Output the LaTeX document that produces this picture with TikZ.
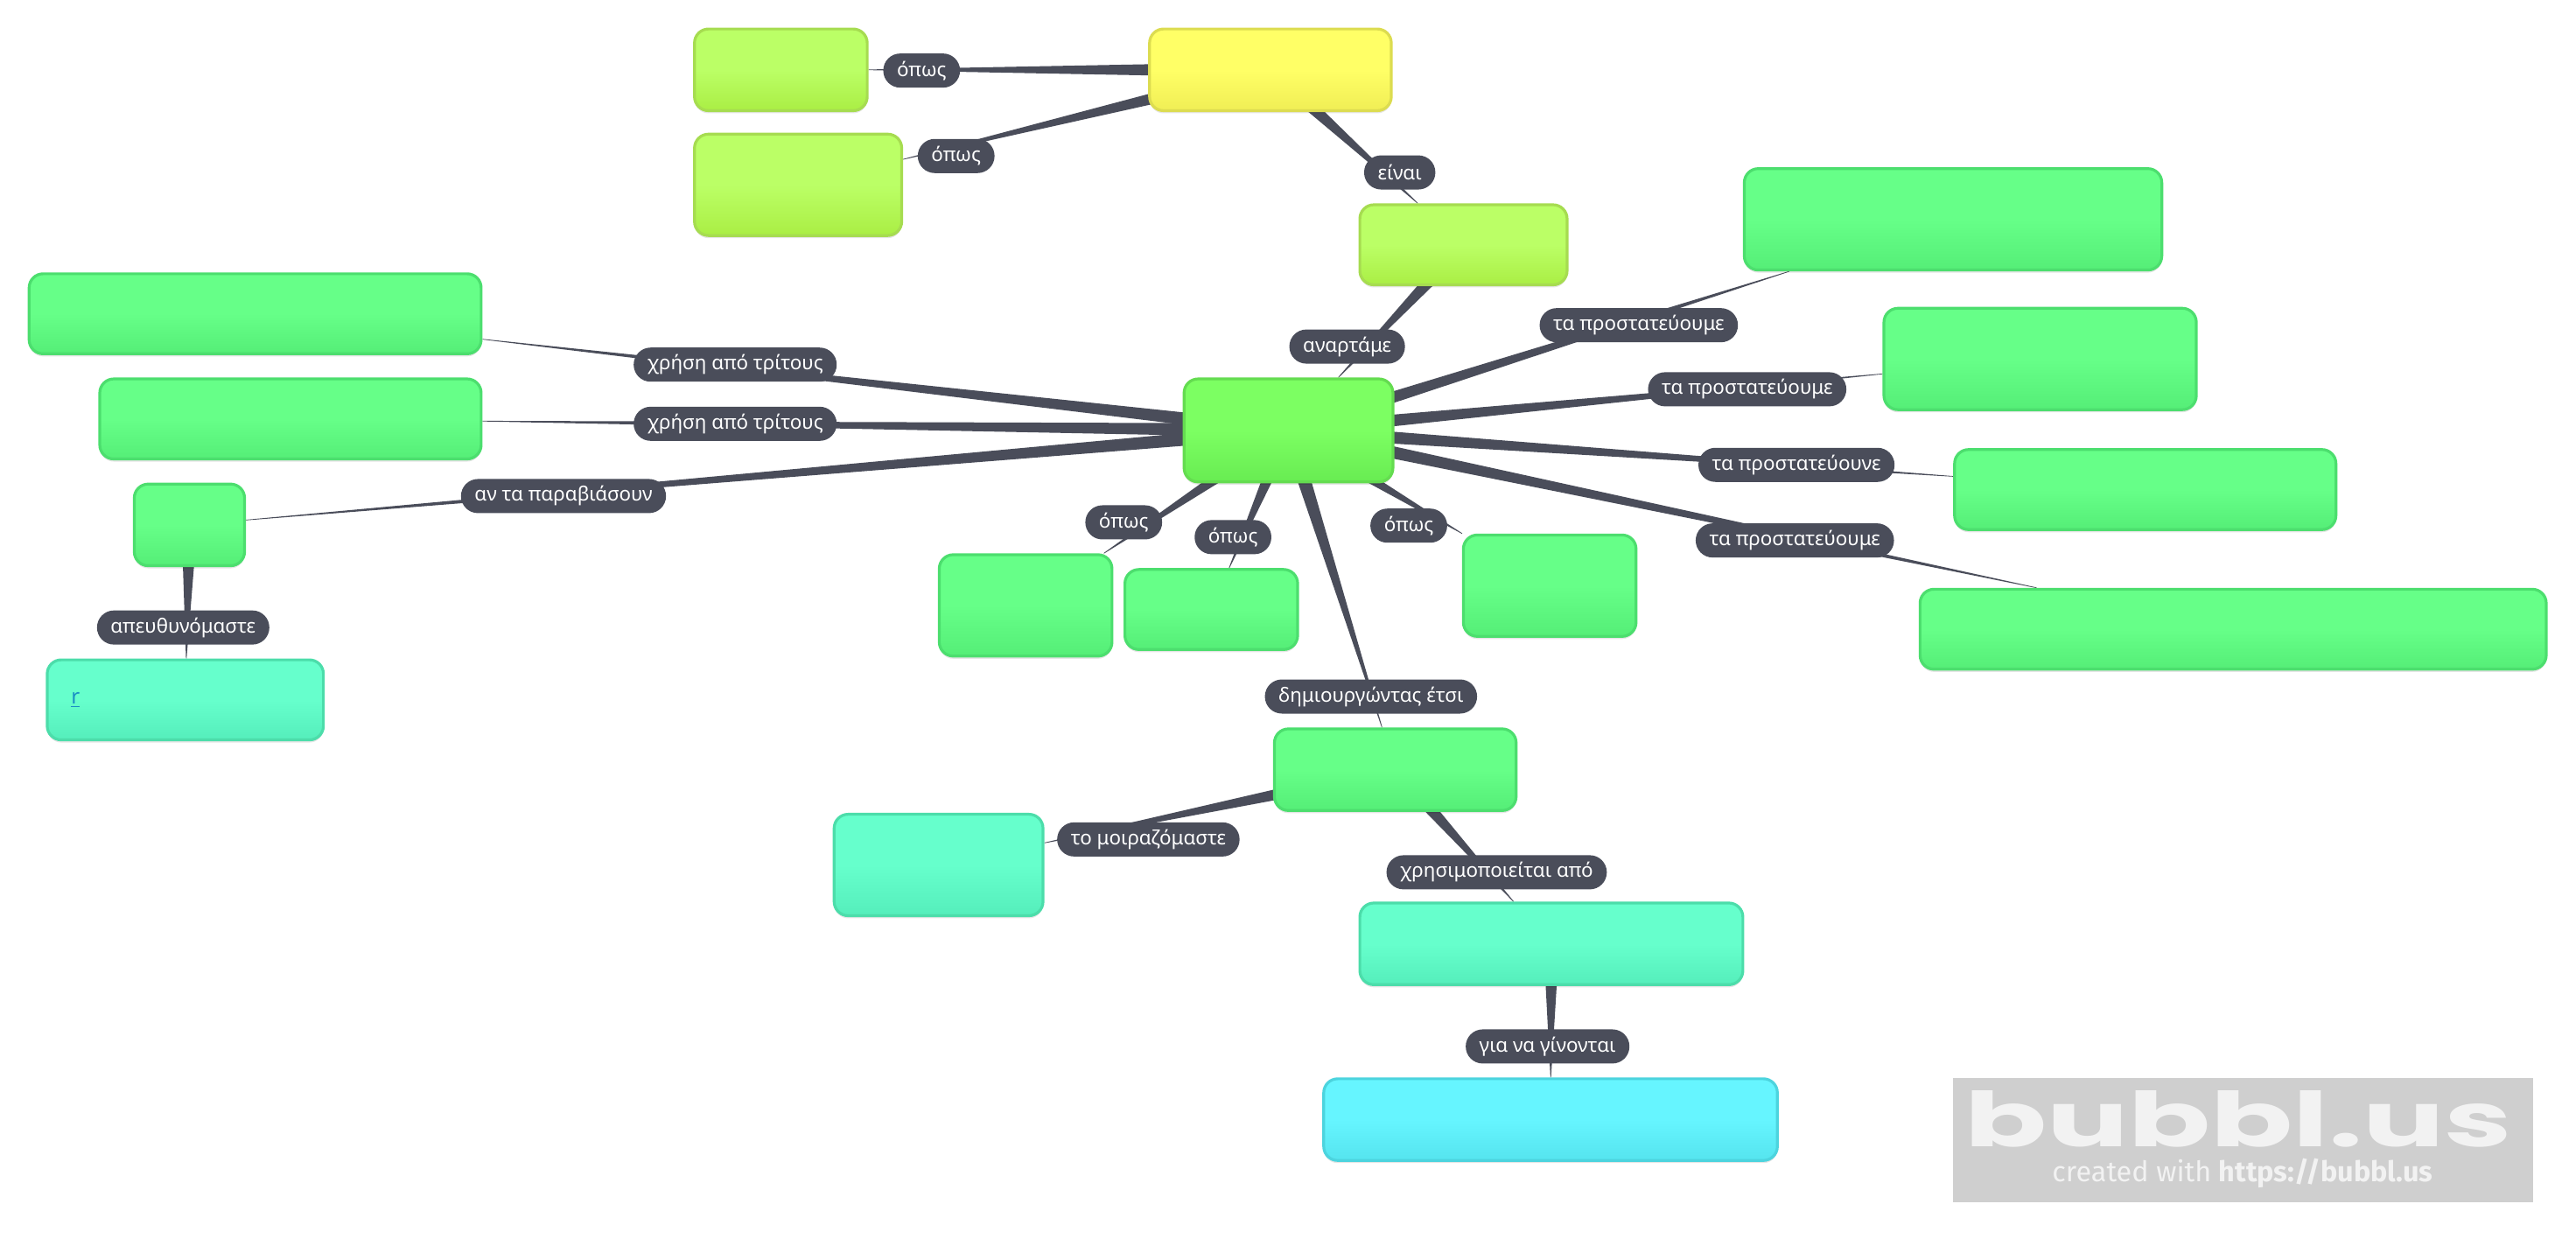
\documentclass[tikz,border=0pt]{standalone}
\usepackage{fontspec}
\setmainfont{Noto Sans}
\newfontfamily\logofont{Poppins}
\newfontfamily\wmfont{Fira Sans}
\usetikzlibrary{calc,backgrounds,shadows}
\definecolor{ink}{HTML}{4A4D5A}
\definecolor{wm}{HTML}{CFCFCF}
\definecolor{wmtext}{HTML}{F2F2F2}
\definecolor{linkblue}{HTML}{1A8FC4}
\definecolor{cenB}{HTML}{64DC50}
\definecolor{grnB}{HTML}{4CDE6E}
\definecolor{tealB}{HTML}{4CDDAA}
\definecolor{limeB}{HTML}{A6DC50}
\definecolor{yelB}{HTML}{DCDC50}
\definecolor{cyanB}{HTML}{4CD4DE}
\newcommand{\mkshade}[3]{%
  \definecolor{#1T}{HTML}{#2}\definecolor{#1L}{HTML}{#3}%
  \pgfdeclareverticalshading{#1S}{100bp}{color(0bp)=(#1L);color(25bp)=(#1L);color(50bp)=(#1T);color(100bp)=(#1T)}}
\mkshade{cen}{7CFF62}{68EC52}
\mkshade{grn}{66FF88}{55EE77}
\mkshade{teal}{66FFCC}{55EEBB}
\mkshade{lime}{BBFF66}{AAEE44}
\mkshade{yel}{FFFF66}{F0EE55}
\mkshade{cyan}{66F5FF}{55E4EE}
\tikzset{
  x=0.9388pt,y=-0.9388pt,
  bubblebox/.style={rounded corners=8pt,line width=1.6pt,inner sep=0pt,shade,
    drop shadow={shadow xshift=0pt,shadow yshift=-1.5pt,opacity=.10,fill=black}},
  cenbox/.style={bubblebox,draw=cenB,shading=cenS},
  grnbox/.style={bubblebox,draw=grnB,shading=grnS},
  tealbox/.style={bubblebox,draw=tealB,shading=tealS},
  limebox/.style={bubblebox,draw=limeB,shading=limeS},
  yelbox/.style={bubblebox,draw=yelB,shading=yelS},
  cyanbox/.style={bubblebox,draw=cyanB,shading=cyanS},
  lab/.style={fill=ink,text=white,rounded corners=9.7pt,minimum height=19.5pt,inner xsep=7.8pt,inner ysep=0pt,
    yshift=-0.9pt,font=\fontsize{11.2pt}{13pt}\selectfont},
  wedgefill/.style={fill=ink},
}
\newcommand{\bubble}[6]{%
  \pgfmathsetmacro\bw{(#4-#2)*0.9388-0.8}%
  \pgfmathsetmacro\bh{(#5-#3)*0.9388-1.2}%
  \node[#6,minimum width=\bw pt,minimum height=\bh pt] (#1) at ({(#2+#4)/2+0.3},{(#3+#5)/2}) {};}
% tapered connector: half width #3 at the centre of #1, narrowing to the border of #2
\newcommand{\taper}[3]{%
  \pgfcoordinate{tip}{\pgfpointshapeborder{#2}{\pgfpointanchor{#1}{center}}}%
  \begin{pgfonlayer}{background}
  \fill[wedgefill] ($(#1)!#3!90:(tip)$) -- ($(tip)!0.18pt!-90:(#1)$) -- ($(tip)!0.18pt!90:(#1)$) -- ($(#1)!#3!-90:(tip)$) -- cycle;
  \end{pgfonlayer}}
\begin{document}
\begin{tikzpicture}
\useasboundingbox (0,0) rectangle (1568,758.4);
\bubble{yel}{699}{17}{847}{68}{yelbox}
\bubble{limea}{422}{17}{528}{68}{limebox}
\bubble{limeb}{422}{81}{549}{144}{limebox}
\bubble{limec}{827}{124}{954}{174}{limebox}
\bubble{cen}{720}{230}{848}{294}{cenbox}
\bubble{ra}{1061}{102}{1316}{165}{grnbox}
\bubble{rb}{1146}{187}{1337}{250}{grnbox}
\bubble{rc}{1189}{273}{1422}{323}{grnbox}
\bubble{rd}{1168}{358}{1550}{408}{grnbox}
\bubble{la}{17}{166}{293}{216}{grnbox}
\bubble{lb}{60}{230}{293}{280}{grnbox}
\bubble{lc}{81}{294}{149}{345}{grnbox}
\bubble{tr}{28}{401}{197}{451}{tealbox}
\bubble{oa}{571}{337}{677}{400}{grnbox}
\bubble{ob}{684}{346}{790}{396}{grnbox}
\bubble{oc}{890}{325}{996}{388}{grnbox}
\bubble{mid}{775}{443}{923}{494}{grnbox}
\bubble{ta}{507}{495}{635}{558}{tealbox}
\bubble{tb}{827}{549}{1061}{600}{tealbox}
\bubble{cy}{805}{656}{1082}{707}{cyanbox}
\taper{yel}{limea}{4.5pt}
\taper{yel}{limeb}{4.5pt}
\taper{yel}{limec}{4.5pt}
\taper{limec}{cen}{4.5pt}
\taper{cen}{ra}{4pt}
\taper{cen}{rb}{4pt}
\taper{cen}{rc}{4pt}
\taper{cen}{rd}{4pt}
\taper{cen}{la}{4pt}
\taper{cen}{lb}{4pt}
\taper{cen}{lc}{4pt}
\taper{cen}{oa}{4.5pt}
\taper{cen}{ob}{4.5pt}
\taper{cen}{oc}{4.5pt}
\taper{cen}{mid}{4.5pt}
\taper{lc}{tr}{4.5pt}
\taper{mid}{ta}{4.5pt}
\taper{mid}{tb}{4.5pt}
\taper{tb}{cy}{4.5pt}
\node[lab] (l1) at (561,42) {όπως};
\node[lab] (l2) at (582,94) {όπως};
\node[lab] (l3) at (852,104) {είναι};
\node[lab] (l4) at (820,210) {αναρτάμε};
\node[lab] (l5) at (997.5,197) {τα προστατεύουμε};
\node[lab] (l6) at (1063.5,236) {τα προστατεύουμε};
\node[lab] (l7) at (1093.5,282) {τα προστατεύουνε};
\node[lab] (l8) at (1092.5,328) {τα προστατεύουμε};
\node[lab] (l9) at (447.5,221) {χρήση από τρίτους};
\node[lab] (l10) at (447.5,257) {χρήση από τρίτους};
\node[lab] (l11) at (343,301) {αν τα παραβιάσουν};
\node[lab] (l12) at (111.5,381) {απευθυνόμαστε};
\node[lab] (l13) at (684,317) {όπως};
\node[lab] (l14) at (750.5,326) {όπως};
\node[lab] (l15) at (857.5,319) {όπως};
\node[lab] (l16) at (834.5,423) {δημιουργώντας έτσι};
\node[lab] (l17) at (699,510) {το μοιραζόμαστε};
\node[lab] (l18) at (911,530) {χρησιμοποιείται από};
\node[lab] (l19) at (942,636) {για να γίνονται};
\node[text=linkblue,font=\fontsize{12pt}{14pt}\selectfont,inner sep=0pt] (rlink) at (46,426) {\underline{r}};
\fill[wm] (1189,656) rectangle (1542,732);
\node[text=wmtext,inner sep=0pt] (logo) at (1362.5,681) {\resizebox{313pt}{32pt}{\logofont\bfseries bubbl.us}};
\node[text=wmtext,inner sep=0pt,font=\wmfont\fontsize{16.2pt}{18pt}\selectfont] (created) at (1365,714) {created with \textbf{https://bubbl.us}};
\end{tikzpicture}
\end{document}
